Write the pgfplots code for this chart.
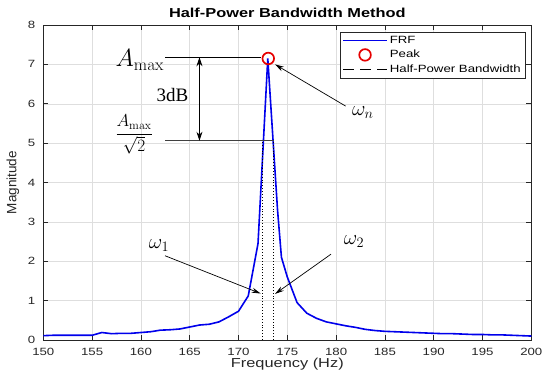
\documentclass[border=0pt]{standalone}
\usepackage{amsmath}
\usepackage{pgfplots}
\pgfplotsset{compat=1.18}
\usepackage[no-math]{fontspec}
\setmainfont[FakeStretch=1.26]{Liberation Sans}
\newfontfamily\plainsans{Liberation Sans}
\newfontfamily\tnr{Liberation Serif}
\usetikzlibrary{arrows.meta}
\definecolor{axgray}{gray}{0.15}
\definecolor{frfblue}{RGB}{0,0,235}
\definecolor{peakred}{RGB}{230,0,0}
\begin{document}
\begin{tikzpicture}
\useasboundingbox (-43.3pt,-46pt) rectangle (506.7pt,340pt);
\begin{axis}[
  at={(0pt,0pt)}, anchor=south west,
  width=488pt, height=315pt, scale only axis,
  xmin=150, xmax=200, ymin=0, ymax=8,
  xtick={150,155,...,200}, ytick={0,1,...,8},
  grid=major, grid style={black!13, line width=0.5pt},
  axis line style={axgray, line width=0.6pt},
  tick style={axgray, line width=0.6pt},
  major tick length=5pt,
  tick align=inside,
  ticklabel style={font=\fontsize{10.5}{12}\selectfont, text=axgray},
  /pgf/number format/assume math mode=true,
  xticklabel style={yshift=-4.5pt},
  yticklabel style={xshift=-4.5pt},
  xlabel={Frequency (Hz)},
  ylabel={Magnitude},
  xlabel style={font=\fontsize{13}{15}\selectfont, text=axgray, at={(axis description cs:0.5,0)}, anchor=north, yshift=-15pt},
  ylabel style={font=\plainsans\fontsize{13.5}{15}\selectfont, text=axgray, at={(axis description cs:0,0.5)}, anchor=center, yshift=30.5pt},
  legend style={at={(0.987,0.978)}, anchor=north east, draw=axgray, fill=white,
    font=\fontsize{10.5}{12.5}\selectfont, row sep=1.5pt, inner sep=2pt},
  legend cell align=left,
  legend image code/.code={\draw[mark repeat=2,mark phase=2,#1] plot coordinates {(0pt,0pt) (22pt,0pt) (44pt,0pt)};},
]
\addplot[frfblue, line width=1.6pt, forget plot] coordinates {
(150,0.11)(151,0.12)(152,0.12)(153,0.12)(154,0.12)(155,0.12)(156,0.19)(157,0.16)
(158,0.17)(159,0.17)(160,0.19)(161,0.21)(162,0.25)(163,0.26)(164,0.28)(165,0.33)
(166,0.38)(167,0.40)(168,0.46)(169,0.59)(170,0.73)(171,1.12)(172,2.45)(173,7.15)
(174,3.3)(174.4,2.1)(175,1.6)(176,0.95)(177,0.68)(178,0.55)(179,0.46)(180,0.41)
(181,0.36)(182,0.32)(183,0.27)(184,0.24)(185,0.22)(186,0.21)(187,0.20)(188,0.19)
(189,0.18)(190,0.17)(191,0.16)(192,0.16)(193,0.15)(194,0.14)(195,0.14)(196,0.13)
(197,0.13)(198,0.12)(199,0.11)(200,0.10)};
\addlegendimage{frfblue, line width=1.6pt}
\addlegendentry{FRF}
\addplot[only marks, mark=o, peakred, mark size=5.8pt, line width=1.7pt] coordinates {(173.05,7.15)};
\addlegendentry{Peak}
\addlegendimage{black, line width=1.2pt, dash pattern=on 11pt off 6pt}
\addlegendentry{Half-Power Bandwidth}
\addplot[black, dotted, line width=0.9pt, forget plot] coordinates {(172.5,0)(172.5,5.06)};
\addplot[black, dotted, line width=0.9pt, forget plot] coordinates {(173.6,0)(173.6,5.06)};
% annotations
\draw[black, line width=0.8pt] (axis cs:162.5,7.18) -- (axis cs:172.35,7.18);
\draw[black!75, line width=0.8pt] (axis cs:162.5,5.06) -- (axis cs:173.6,5.06);
\draw[{Stealth[length=9pt,width=6pt]}-{Stealth[length=9pt,width=6pt]}, line width=0.8pt] (axis cs:166,7.18) -- (axis cs:166,5.06);
\node[anchor=base east, inner sep=0pt] at (axis cs:162.4,6.95) {\fontsize{24}{28}\selectfont $A_{\max}$};
\node[anchor=center, inner sep=0pt] at (axis cs:159.3,5.22) {\fontsize{17}{20}\selectfont $\dfrac{A_{\max}}{\sqrt{2}}$};
\node[anchor=base, inner sep=0pt] at (axis cs:163.24,6.05) {\tnr\fontsize{19}{22}\selectfont 3dB};
\node[anchor=base, inner sep=0pt] at (axis cs:182.74,5.71) {\fontsize{20}{24}\selectfont $\omega_n$};
\draw[-{Stealth[length=9pt,width=5pt]}, line width=0.7pt] (axis cs:180.98,5.94) -- (axis cs:173.74,7.0);
\node[anchor=base, inner sep=0pt] at (axis cs:161.86,2.33) {\fontsize{21}{24}\selectfont $\omega_1$};
\draw[-{Stealth[length=9pt,width=5pt]}, line width=0.7pt] (axis cs:162.47,2.14) -- (axis cs:172.27,1.18);
\node[anchor=base, inner sep=0pt] at (axis cs:181.83,2.43) {\fontsize{21}{24}\selectfont $\omega_2$};
\draw[-{Stealth[length=9pt,width=5pt]}, line width=0.7pt] (axis cs:179.48,2.18) -- (axis cs:173.74,1.17);
\node[anchor=base west, inner sep=0pt, text=axgray] at ([xshift=3.7pt,yshift=3.3pt]rel axis cs:0,1) {\fontsize{12}{14}\selectfont ×10\textsuperscript{-12}};
\end{axis}
\node[anchor=base, inner sep=0pt, xscale=1.26, transform shape] at (244pt,322pt) {\plainsans\bfseries\fontsize{13}{15}\selectfont Half-Power Bandwidth Method};
\end{tikzpicture}
\end{document}
